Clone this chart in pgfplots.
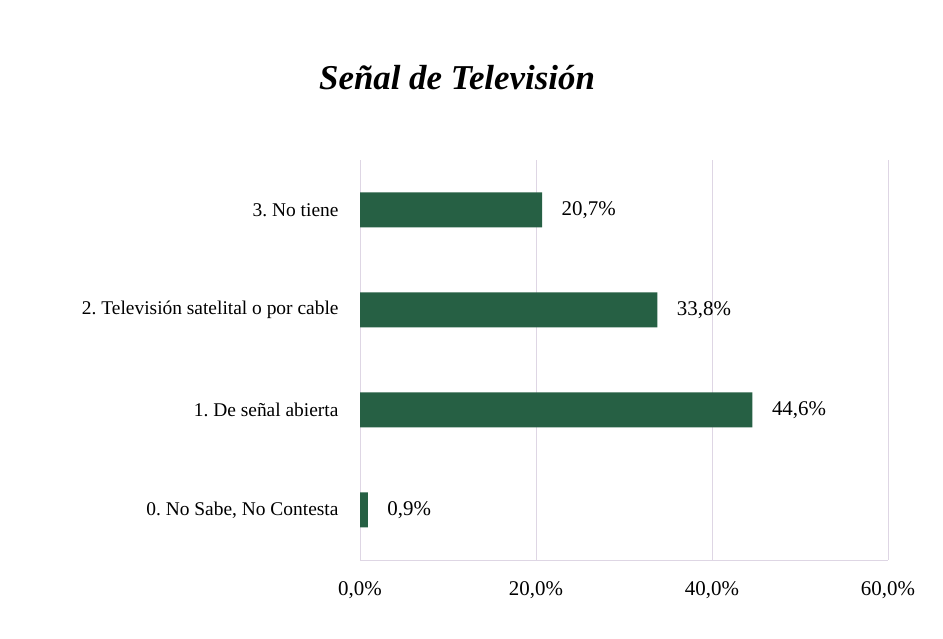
\documentclass[border=0pt]{standalone}
\usepackage{pgfplots}
\pgfplotsset{compat=1.18}
\usepackage{fontspec}
\setmainfont{Liberation Serif}
\frenchspacing
\definecolor{bargreen}{RGB}{38,96,68}
\definecolor{gridc}{RGB}{222,214,228}
\begin{document}
\begin{tikzpicture}[x=1bp,y=1bp]
\path[use as bounding box, fill=white] (0,0) rectangle (943,639);
\node[font=\fontsize{35}{40}\selectfont\bfseries\itshape] at (457,561) {Señal de Televisión};
\begin{axis}[at={(360bp,79bp)}, anchor=south west, scale only axis,
  width=528bp, height=400bp,
  xbar, bar width=35bp,
  xmin=0, xmax=60, ymin=-0.5, ymax=3.5,
  xtick={0,20,40,60},
  xticklabels={{0,0\%},{20,0\%},{40,0\%},{60,0\%}},
  ytick={0,1,2,3},
  yticklabels={{0. No Sabe, No Contesta},{1. De señal abierta},{2. Televisión satelital o por cable},{3. No tiene}},
  axis x line*=bottom, axis y line*=left,
  axis line style={gridc},
  xmajorgrids, major grid style={gridc},
  major tick length=0pt, tick style={draw=none},
  xticklabel style={font=\fontsize{21}{24}\selectfont, yshift=-18bp},
  yticklabel style={font=\fontsize{19.5}{23}\selectfont, xshift=-18bp},
  /pgf/number format/assume math mode=true,
  point meta=x,
  nodes near coords={\pgfmathprintnumber[fixed,fixed zerofill,precision=1,use comma]{\pgfplotspointmeta}\%},
  every node near coord/.append style={font=\fontsize{21}{24}\selectfont, xshift=16bp, black},
]
\addplot[fill=bargreen, draw=none] coordinates {(0.9,0) (44.6,1) (33.8,2) (20.7,3)};
\end{axis}
\end{tikzpicture}
\end{document}
